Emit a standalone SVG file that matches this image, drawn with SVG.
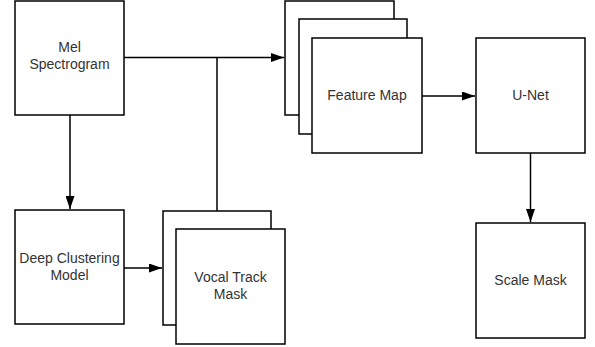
<svg xmlns="http://www.w3.org/2000/svg" width="595" height="347" viewBox="0 0 595 347">
  <style>
    .box { fill: #fff; stroke: #000; stroke-width: 1.5; }
    .lbl { font-family: "Liberation Sans", Arial, sans-serif; font-size: 14px; fill: #333; text-anchor: middle; }
    .wire { fill: none; stroke: #000; stroke-width: 1.5; }
  </style>
  <defs>
    <marker id="arrow" viewBox="0 0 13 9" refX="13" refY="4.5" markerWidth="13" markerHeight="9" markerUnits="userSpaceOnUse" orient="auto">
      <path d="M0,0 L13,4.5 L0,9 Z" fill="#000"/>
    </marker>
  </defs>

  <rect width="595" height="347" fill="#fff"/>

  <g id="connectors">
    <path class="wire" d="M124,57.5 H284" marker-end="url(#arrow)"/>
    <path class="wire" d="M217,211 V57.5"/>
    <path class="wire" d="M70,115 V209" marker-end="url(#arrow)"/>
    <path class="wire" d="M124,268 H162" marker-end="url(#arrow)"/>
    <path class="wire" d="M422,96 H475" marker-end="url(#arrow)"/>
    <path class="wire" d="M530.5,153 V222" marker-end="url(#arrow)"/>
  </g>

  <g id="mel-spectrogram">
    <rect class="box" x="15" y="1" width="109" height="114"/>
    <text class="lbl" x="69.5" y="52">Mel</text>
    <text class="lbl" x="69.5" y="69">Spectrogram</text>
  </g>

  <g id="deep-clustering-model">
    <rect class="box" x="15" y="210" width="109" height="114"/>
    <text class="lbl" x="69.5" y="263">Deep Clustering</text>
    <text class="lbl" x="69.5" y="280">Model</text>
  </g>

  <g id="vocal-track-mask">
    <rect class="box" x="163" y="211" width="108" height="114"/>
    <rect class="box" x="176" y="229" width="109" height="115"/>
    <text class="lbl" x="230.5" y="282">Vocal Track</text>
    <text class="lbl" x="230.5" y="299">Mask</text>
  </g>

  <g id="feature-map">
    <rect class="box" x="285" y="1" width="109" height="114"/>
    <rect class="box" x="299" y="19" width="108" height="115"/>
    <rect class="box" x="312" y="38" width="110" height="115"/>
    <text class="lbl" x="367" y="100">Feature Map</text>
  </g>

  <g id="u-net">
    <rect class="box" x="476" y="38" width="109" height="115"/>
    <text class="lbl" x="530.5" y="100">U-Net</text>
  </g>

  <g id="scale-mask">
    <rect class="box" x="476" y="223" width="109" height="115"/>
    <text class="lbl" x="530.5" y="285">Scale Mask</text>
  </g>
</svg>
